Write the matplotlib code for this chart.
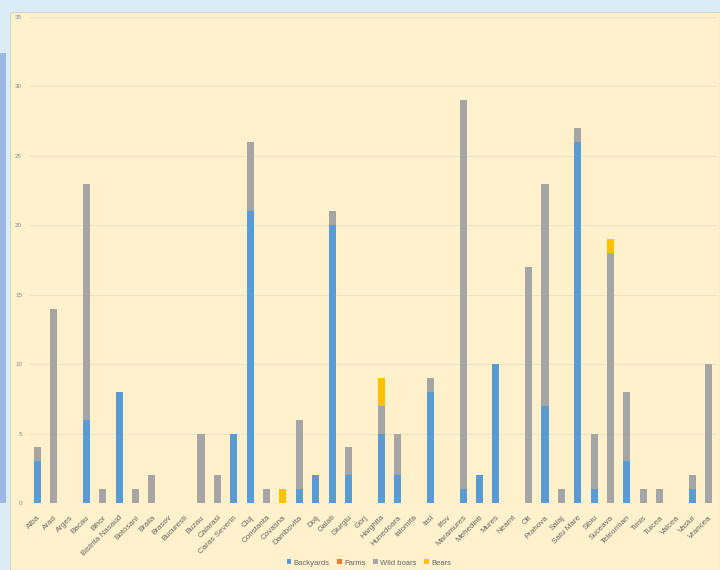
import matplotlib
matplotlib.use("Agg")
import matplotlib.pyplot as plt
import numpy as np
from matplotlib.patches import Rectangle

counties = ["Alba", "Arad", "Arges", "Bacau", "Bihor", "Bistrita Nasaud", "Botosani", "Braila",
            "Brasov", "Bucuresti", "Buzau", "Calarasi", "Caras Severin", "Cluj", "Constanta",
            "Covasna", "Dambovita", "Dolj", "Galati", "Giurgiu", "Gorj", "Harghita", "Hunedoara",
            "Ialomita", "Iasi", "Ilfov", "Maramures", "Mehedinti", "Mures", "Neamt", "Olt",
            "Prahova", "Salaj", "Satu Mare", "Sibiu", "Suceava", "Teleorman", "Timis", "Tulcea",
            "Valcea", "Vaslui", "Vrancea"]
backyards = [3, 0, 0, 6, 0, 8, 0, 0, 0, 0, 0, 0, 5, 21, 0, 0, 1, 2, 20, 2, 0, 5, 2, 0, 8, 0,
             1, 2, 10, 0, 0, 7, 0, 26, 1, 0, 3, 0, 0, 0, 1, 0]
farms = [0] * 42
wild_boars = [1, 14, 0, 17, 1, 0, 1, 2, 0, 0, 5, 2, 0, 5, 1, 0, 5, 0, 1, 2, 0, 2, 3, 0, 1, 0,
              28, 0, 0, 0, 17, 16, 1, 1, 4, 18, 5, 1, 1, 0, 1, 10]
bears = [0, 0, 0, 0, 0, 0, 0, 0, 0, 0, 0, 0, 0, 0, 0, 1, 0, 0, 0, 0, 0, 2, 0, 0, 0, 0,
         0, 0, 0, 0, 0, 0, 0, 0, 0, 1, 0, 0, 0, 0, 0, 0]
series_names = ["Backyards", "Farms", "Wild boars", "Bears"]
colors = ["#5B9BD5", "#ED7D31", "#A5A5A5", "#FFC000"]

plt.rcParams['font.family'] = ['Liberation Sans', 'DejaVu Sans']

W, H = 720, 570
fig = plt.figure(figsize=(7.2, 5.7), dpi=100)
fig.patch.set_facecolor("#DAEDF7")

# chart panel
fig.patches.append(Rectangle((10 / W, 0), 1 - 10 / W, 1 - 12 / H, transform=fig.transFigure,
                             facecolor="#FEF1CC", edgecolor="#D8D4C4", linewidth=0.8, zorder=-10))
# left blue strip
fig.patches.append(Rectangle((0, 1 - 503 / H), 6 / W, (503 - 53) / H, transform=fig.transFigure,
                             facecolor="#9DB8E4", edgecolor="none", zorder=-10))

ax = fig.add_axes([29 / W, 1 - 503 / H, (717 - 29) / W, (503 - 17) / H])
ax.set_zorder(5)
ax.set_facecolor("none")

x = np.arange(len(counties))
bottom = np.zeros(len(counties))
for name, vals, c in zip(series_names, [backyards, farms, wild_boars, bears], colors):
    v = np.array(vals, dtype=float)
    ax.bar(x, v, 0.43, bottom=bottom, color=c, label=name, zorder=3)
    bottom += v

ax.set_xlim(-0.5, len(counties) - 0.5)
ax.set_ylim(0, 35)
ax.set_yticks(range(0, 36, 5))
ax.grid(axis="y", color="#EDE3C2", linewidth=0.8, zorder=0)
for s in ax.spines.values():
    s.set_visible(False)
ax.tick_params(axis="y", length=0, labelsize=4.5, labelcolor="#8A8A8A", pad=5)
ax.tick_params(axis="x", length=0, pad=8)
ax.set_xticks(x)
ax.set_xticklabels(counties, rotation=45, ha="right", rotation_mode="anchor",
                   fontsize=5.8, color="#666666")

handles, labels = ax.get_legend_handles_labels()
leg = fig.legend(handles, labels, loc="center", bbox_to_anchor=(369 / W, 1 - 563 / H), ncol=4,
                 frameon=False, fontsize=5.5, handlelength=0.6, handleheight=0.6,
                 handletextpad=0.3, columnspacing=1.0, labelcolor="#666666")
leg.set_zorder(6)

fig.savefig("out.png", dpi=100, facecolor=fig.get_facecolor())
